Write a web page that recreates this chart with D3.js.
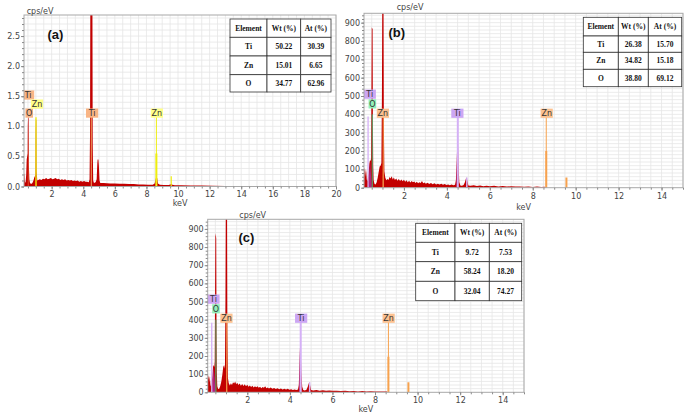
<!DOCTYPE html>
<html><head><meta charset="utf-8">
<script src="https://cdn.jsdelivr.net/npm/d3@7"></script>
<style>body{margin:0;background:#fff}svg{display:block}</style>
</head><body>
<svg id="chart" width="685" height="415"></svg>
<script>
// ================= DATA =================
const xTicksA = [2,4,6,8,10,12,14,16,18,20];
const yTicksA = [0,0.5,1.0,1.5,2.0,2.5];
const xTicksBC = [2,4,6,8,10,12,14];
const yTicksBC = [0,100,200,300,400,500,600,700,800,900];

// spectra: [keV, cps/eV]
const spectrumA = [[0.25,0.02],[0.26,0.2],[0.28,0.22],[0.3,0.1],[0.33,0.06],[0.36,0.09],[0.39,0.2],[0.42,0.45],[0.45,0.5],[0.48,0.55],[0.49,1.0],[0.51,1.16],[0.54,1.14],[0.56,0.35],[0.59,0.12],[0.63,0.06],[0.7,0.04],[0.78,0.06],[0.85,0.1],[0.9,0.15],[0.94,0.17],[0.97,0.2],[0.985,0.9],[1.0,1.12],[1.03,1.1],[1.05,0.25],[1.09,0.1],[1.15,0.11],[1.25,0.12],[1.35,0.11],[1.45,0.13],[1.55,0.12],[1.65,0.14],[1.75,0.12],[1.85,0.13],[1.95,0.14],[2.05,0.12],[2.15,0.13],[2.25,0.14],[2.35,0.12],[2.45,0.13],[2.55,0.11],[2.65,0.12],[2.75,0.11],[2.85,0.12],[2.95,0.1],[3.05,0.11],[3.15,0.1],[3.25,0.11],[3.35,0.09],[3.45,0.1],[3.55,0.09],[3.65,0.1],[3.75,0.08],[3.85,0.09],[3.95,0.08],[4.05,0.09],[4.15,0.08],[4.25,0.08],[4.35,0.07],[4.4,0.12],[4.43,0.9],[4.45,3.2],[4.58,3.2],[4.6,0.7],[4.63,0.1],[4.68,0.06],[4.78,0.07],[4.85,0.12],[4.89,0.38],[4.91,0.45],[4.96,0.45],[4.99,0.35],[5.03,0.1],[5.08,0.06],[5.3,0.06],[5.5,0.055],[5.7,0.05],[6.0,0.05],[6.3,0.045],[6.6,0.045],[6.9,0.04],[7.2,0.04],[7.5,0.035],[7.8,0.035],[8.1,0.03],[8.4,0.03],[8.52,0.05],[8.58,0.12],[8.63,0.17],[8.68,0.14],[8.73,0.05],[8.85,0.03],[9.1,0.025],[9.4,0.025],[9.52,0.035],[9.58,0.04],[9.64,0.03],[9.8,0.02],[10.2,0.02],[10.8,0.018],[11.5,0.015],[12.2,0.013],[13,0.01],[14,0.008],[15,0.007],[16.5,0.006],[18,0.005],[20,0.004]];

const spectrumB = [[0.14,0],[0.15,70],[0.17,110],[0.19,95],[0.21,60],[0.23,105],[0.25,80],[0.27,45],[0.3,35],[0.33,60],[0.36,90],[0.39,130],[0.42,150],[0.45,145],[0.47,160],[0.485,500],[0.5,873],[0.54,865],[0.555,350],[0.57,120],[0.59,40],[0.63,20],[0.68,18],[0.73,30],[0.78,55],[0.83,90],[0.87,115],[0.91,120],[0.95,135],[0.975,500],[0.99,1000],[1.05,1000],[1.065,350],[1.09,90],[1.13,55],[1.18,40],[1.23,48],[1.28,42],[1.33,58],[1.38,50],[1.43,62],[1.48,45],[1.53,55],[1.58,42],[1.64,50],[1.7,38],[1.76,48],[1.82,36],[1.88,45],[1.94,35],[2.0,44],[2.06,32],[2.12,40],[2.18,30],[2.24,38],[2.3,28],[2.36,36],[2.42,30],[2.48,34],[2.54,26],[2.6,32],[2.66,24],[2.72,30],[2.78,26],[2.84,36],[2.9,24],[2.96,28],[3.02,22],[3.1,27],[3.18,20],[3.26,25],[3.34,19],[3.42,24],[3.5,18],[3.58,22],[3.66,17],[3.74,21],[3.82,16],[3.9,20],[3.98,15],[4.06,18],[4.14,14],[4.22,17],[4.3,14],[4.38,16],[4.42,40],[4.46,150],[4.49,265],[4.52,240],[4.55,110],[4.58,30],[4.63,12],[4.7,10],[4.78,15],[4.84,30],[4.89,50],[4.92,55],[4.96,35],[5.0,12],[5.1,10],[5.25,13],[5.4,9],[5.55,12],[5.7,8],[5.85,11],[6.0,8],[6.2,10],[6.4,7],[6.6,9],[6.8,6],[7.0,8],[7.2,6],[7.4,7],[7.6,5],[7.8,7],[8.0,4],[8.2,6],[8.4,4],[8.55,5],[8.6,2],[8.7,0],[15,0]];

const spectrumC = [[0.14,0],[0.15,60],[0.17,95],[0.19,80],[0.21,55],[0.23,90],[0.25,70],[0.27,40],[0.3,30],[0.33,55],[0.36,90],[0.39,140],[0.42,150],[0.45,140],[0.47,170],[0.485,520],[0.5,876],[0.54,850],[0.555,330],[0.57,110],[0.59,35],[0.63,18],[0.68,20],[0.73,35],[0.78,60],[0.83,100],[0.87,140],[0.91,150],[0.95,130],[0.975,520],[0.99,1000],[1.05,1000],[1.065,330],[1.09,80],[1.13,50],[1.18,38],[1.23,50],[1.28,40],[1.33,55],[1.38,48],[1.43,60],[1.48,44],[1.53,52],[1.58,40],[1.64,48],[1.7,36],[1.76,46],[1.82,35],[1.88,44],[1.94,33],[2.0,42],[2.06,30],[2.12,38],[2.18,29],[2.24,36],[2.3,27],[2.36,34],[2.42,28],[2.48,33],[2.54,25],[2.6,30],[2.66,23],[2.72,29],[2.78,25],[2.84,34],[2.9,23],[2.96,27],[3.02,21],[3.1,26],[3.18,19],[3.26,24],[3.34,18],[3.42,23],[3.5,17],[3.58,21],[3.66,16],[3.74,20],[3.82,15],[3.9,19],[3.98,14],[4.06,17],[4.14,13],[4.22,16],[4.3,13],[4.38,15],[4.42,40],[4.45,150],[4.48,266],[4.51,245],[4.54,110],[4.58,30],[4.63,12],[4.7,10],[4.78,14],[4.84,30],[4.89,50],[4.92,55],[4.96,33],[5.0,12],[5.1,10],[5.25,12],[5.4,9],[5.55,11],[5.7,8],[5.85,10],[6.0,8],[6.2,9],[6.4,7],[6.6,8],[6.8,6],[7.0,7],[7.2,5],[7.4,7],[7.6,5],[7.8,6],[8.0,4],[8.2,5],[8.4,4],[8.55,5],[8.6,2],[8.7,0],[15,0]];

// element marker lines: [element, keV, top (cps/eV), stroke width]
const markersA = [["Ti",4.51,1.17,1],["Zn",1.01,1.15,1.3],["Zn",8.63,1.17,1],["Zn",8.63,0.55,2],["Zn",9.57,0.17,1.2]];
const markersB = [["Ti",0.33,388,1.3],["O",0.525,400,1],["Zn",1.035,400,1],["Ti",4.51,400,2],["Ti",4.93,55,1.5],["Zn",8.63,400,1],["Zn",8.63,200,2],["Zn",9.57,55,2]];
const markersC = [["Ti",0.33,383,1.3],["O",0.525,400,1],["Zn",1.035,400,1],["Ti",4.51,400,2],["Ti",4.93,55,1.5],["Zn",8.63,400,1],["Zn",8.63,196,2],["Zn",9.57,55,2]];

// element peak tints: [element, centre keV, half width keV, height]
const tintsA = [["O",0.52,0.035,1.12],["Zn",1.01,0.025,1.1]];
const tintsB = [["Ti",0.42,0.09,140],["Zn",1.03,0.03,150],["Ti",4.48,0.04,230],["Ti",4.92,0.03,50]];
const tintsC = [["Ti",0.42,0.09,140],["Zn",1.03,0.03,150],["Ti",4.47,0.04,230],["Ti",4.92,0.03,50]];

// element labels: [element, centre keV, centre cps/eV]
const labelsA = [["Ti",0.51,1.52],["O",0.58,1.22],["Zn",1.07,1.37],["Ti",4.56,1.22],["Zn",8.66,1.22]];
const labelsB = [["Ti",0.41,510],["O",0.53,457],["Zn",1.02,406],["Ti",4.49,406],["Zn",8.65,406]];
const labelsC = [["Ti",0.41,513],["O",0.53,460],["Zn",1.02,408],["Ti",4.53,408],["Zn",8.64,408]];

// composition tables
const tableHead = ["Element","Wt (%)","At (%)"];
const tableA = [["Ti","50.22","30.39"],["Zn","15.01","6.65"],["O","34.77","62.96"]];
const tableB = [["Ti","26.38","15.70"],["Zn","34.82","15.18"],["O","38.80","69.12"]];
const tableC = [["Ti","9.72","7.53"],["Zn","58.24","18.20"],["O","32.04","74.27"]];

// ================= STYLE / LAYOUT =================
const colorsA = {Ti:{bg:"#f9b585",line:"#f0a060",tint:"#f08a50"}, O:{bg:"#f9b585",line:"#f07a40",tint:"#f07a40"}, Zn:{bg:"#ffff88",line:"#eeee10",tint:"#f0c020"}};
const colorsBC = {Ti:{bg:"#cca6f4",line:"#d4b0f6",tint:"#a040d8"}, O:{bg:"#92f0ba",line:"#48b878",tint:"#48b878"}, Zn:{bg:"#fcc190",line:"#f7a24e",tint:"#f7a24e"}};

const panels = [
 {id:"a", name:"(a)", box:[24,15,336,186.5], xdom:[0.25,20], ydom:[0,2.85], xt:xTicksA, yt:yTicksA, fmt:d3.format(".1f"),
  xMinor:0.5, yMinor:0.1, spec:spectrumA, markers:markersA, tints:tintsA, labels:labelsA, colors:colorsA,
  table:tableA, tbl:{x:230,y:19,cols:[37,33.7,30.3],rows:[18.3,18.7,18.7,17.3]},
  title:[47.5,39], cps:[26.7,13.5], kev:205.5},
 {id:"b", name:"(b)", box:[364,13.3,683,187.7], xdom:[0.14,15], ydom:[0,951], xt:xTicksBC, yt:yTicksBC, fmt:d3.format("d"),
  xMinor:0.5, yMinor:20, spec:spectrumB, markers:markersB, tints:tintsB, labels:labelsB, colors:colorsBC,
  table:tableB, tbl:{x:583.3,y:17.3,cols:[35,30,33.4],rows:[18.7,16.3,17,17.4]},
  title:[388.5,36.5], cps:[396.7,9.5], kev:209.5},
 {id:"c", name:"(c)", box:[207.7,219.3,524,392.3], xdom:[0.14,15], ydom:[0,953], xt:xTicksBC, yt:yTicksBC, fmt:d3.format("d"),
  xMinor:0.5, yMinor:20, spec:spectrumC, markers:markersC, tints:tintsC, labels:labelsC, colors:colorsBC,
  table:tableC, tbl:{x:415.7,y:223.3,cols:[39.3,34.3,32.4],rows:[19,19.4,19.6,19.4]},
  title:[238.5,241.5], cps:[239.3,218], kev:412}
];

const svg = d3.select("#chart");
const defs = svg.append("defs");
const SANS = "DejaVu Sans, Verdana, sans-serif";

function drawPanel(p){
  const [L,T,R,B] = p.box;
  const x = d3.scaleLinear().domain(p.xdom).range([L,R]);
  const y = d3.scaleLinear().domain(p.ydom).range([B,T]);
  const g = svg.append("g");
  const cid = "clip-"+p.id;
  defs.append("clipPath").attr("id",cid).append("rect")
    .attr("x",L).attr("y",T).attr("width",R-L).attr("height",B-T);

  g.append("rect").attr("x",L).attr("y",T).attr("width",R-L).attr("height",B-T).attr("fill","#fff");

  // grid
  const gx = d3.range(Math.ceil(p.xdom[0]/p.xMinor)*p.xMinor, p.xdom[1]+1e-9, p.xMinor);
  const gy = d3.range(p.yMinor, p.ydom[1], p.yMinor);
  const grid = g.append("g").attr("stroke","#e6e6e6").attr("stroke-width",0.8);
  grid.selectAll("line.gx").data(gx).join("line").attr("class","gx")
    .attr("x1",d=>x(d)).attr("x2",d=>x(d)).attr("y1",T).attr("y2",B);
  grid.selectAll("line.gy").data(gy).join("line").attr("class","gy")
    .attr("y1",d=>y(d)).attr("y2",d=>y(d)).attr("x1",L).attr("x2",R);

  const cg = g.append("g").attr("clip-path",`url(#${cid})`);
  const area = d3.area().x(d=>x(d[0])).y0(y(0)).y1(d=>y(d[1]));

  // spectrum
  cg.append("path").datum(p.spec).attr("d",area).attr("fill","#c20000");

  // element tints
  cg.selectAll("path.tint").data(p.tints).join("path").attr("class","tint")
    .attr("d",d=>area([[d[1]-d[2],0],[d[1],d[3]],[d[1]+d[2],0]]))
    .attr("fill",d=>p.colors[d[0]].tint).attr("opacity",0.6);

  // marker lines
  cg.selectAll("line.mk").data(p.markers).join("line").attr("class","mk")
    .attr("x1",d=>x(d[1])).attr("x2",d=>x(d[1]))
    .attr("y1",y(0)).attr("y2",d=>y(d[2]))
    .attr("stroke",d=>p.colors[d[0]].line).attr("stroke-width",d=>d[3]);

  // labels
  const lg = cg.selectAll("g.lab").data(p.labels).join("g").attr("class","lab")
    .attr("transform",d=>`translate(${x(d[1])},${y(d[2])})`);
  lg.append("rect").attr("x",d=>-(d[0].length*4.6+3)/2).attr("y",-4.6)
    .attr("width",d=>d[0].length*4.6+3).attr("height",9.2)
    .attr("fill",d=>p.colors[d[0]].bg);
  lg.append("text").attr("text-anchor","middle").attr("y",3)
    .attr("font-family",SANS).attr("font-size",8).attr("fill","#333").text(d=>d[0]);

  // frame
  g.append("rect").attr("x",L).attr("y",T).attr("width",R-L).attr("height",B-T)
    .attr("fill","none").attr("stroke","#a8a8a8").attr("stroke-width",1);

  // axes
  const styleAxis = sel => {
    sel.select(".domain").remove();
    sel.selectAll("line").attr("stroke","#8a8a8a");
    sel.selectAll("text").attr("font-family",SANS).attr("font-size",8).attr("fill","#444");
  };
  g.append("g").attr("transform",`translate(${L},0)`)
    .call(d3.axisLeft(y).tickValues(d3.range(0,p.ydom[1],p.yMinor)).tickSize(2).tickFormat(""))
    .call(styleAxis);
  g.append("g").attr("transform",`translate(${L},0)`)
    .call(d3.axisLeft(y).tickValues(p.yt).tickSize(3).tickPadding(1).tickFormat(p.fmt))
    .call(styleAxis);
  g.append("g").attr("transform",`translate(0,${B})`)
    .call(d3.axisBottom(x).tickValues(gx).tickSize(2).tickFormat(""))
    .call(styleAxis);
  g.append("g").attr("transform",`translate(0,${B})`)
    .call(d3.axisBottom(x).tickValues(p.xt).tickSize(3).tickPadding(2.3).tickFormat(d3.format("d")))
    .call(styleAxis);

  // axis titles
  g.append("text").attr("x",(L+R)/2).attr("y",p.kev).attr("text-anchor","middle")
    .attr("font-family",SANS).attr("font-size",8).attr("fill","#444").text("keV");
  g.append("text").attr("x",p.cps[0]).attr("y",p.cps[1])
    .attr("font-family",SANS).attr("font-size",8).attr("fill","#444").text("cps/eV");

  // panel title
  g.append("text").attr("x",p.title[0]).attr("y",p.title[1])
    .attr("font-family","Liberation Sans, Arial, sans-serif").attr("font-weight","bold")
    .attr("font-size",13).attr("fill","#111").text(p.name);

  // table
  const t = p.tbl;
  const rows = [tableHead].concat(p.table);
  const colX = [t.x]; t.cols.forEach((w,i)=>colX.push(colX[i]+w));
  const rowY = [t.y]; t.rows.forEach((h,i)=>rowY.push(rowY[i]+h));
  const tg = g.append("g");
  rows.forEach((r,ri)=>{
    r.forEach((cell,ci)=>{
      tg.append("rect").attr("x",colX[ci]).attr("y",rowY[ri])
        .attr("width",t.cols[ci]).attr("height",t.rows[ri])
        .attr("fill","#fff").attr("stroke","#333").attr("stroke-width",0.8);
      tg.append("text").attr("x",colX[ci]+t.cols[ci]/2).attr("y",rowY[ri]+t.rows[ri]/2+2.6)
        .attr("text-anchor","middle").attr("font-family","Liberation Serif, Times New Roman, serif")
        .attr("font-weight","bold").attr("font-size",7.5).attr("fill","#111").text(cell);
    });
  });
}

panels.forEach(drawPanel);
</script>
</body></html>
